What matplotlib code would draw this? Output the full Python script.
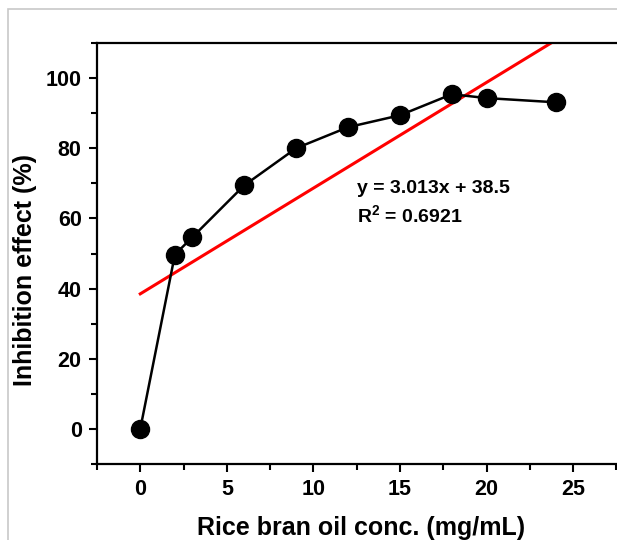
import matplotlib
matplotlib.use('Agg')
import matplotlib.pyplot as plt
import numpy as np
from matplotlib.patches import Rectangle
from matplotlib.ticker import MultipleLocator

plt.rcParams['font.family'] = 'Liberation Sans'
plt.rcParams['font.weight'] = 'bold'
plt.rcParams['mathtext.fontset'] = 'custom'
plt.rcParams['mathtext.rm'] = 'Liberation Sans:bold'
plt.rcParams['mathtext.default'] = 'rm'

# data
conc = [0, 2, 3, 6, 9, 12, 15, 18, 20, 24]
inhibition = [0, 49.7, 54.6, 69.4, 80.0, 86.0, 89.4, 95.4, 94.3, 93.1]
slope = 3.013
intercept = 38.5
r2 = 0.6921

fig = plt.figure(figsize=(6.17, 5.4), dpi=100)
# light frame of the original screenshot
fig.patches.append(Rectangle((8 / 617, -0.1), 1.2, 531 / 540 + 0.1,
                             transform=fig.transFigure, fill=False,
                             edgecolor='#c8c8c8', lw=1.2))

ax = fig.add_axes([97 / 617, 76 / 540, 528 / 617, 421 / 540])

fit_x = np.array([0, 24])
ax.plot(fit_x, slope * fit_x + intercept, color='red', lw=2.2, zorder=2)
ax.plot(conc, inhibition, color='black', lw=1.8, marker='o',
        markersize=13, zorder=3)

ax.set_xlim(-2.5, 28)
ax.set_ylim(-10, 110)
ax.xaxis.set_major_locator(MultipleLocator(5))
ax.xaxis.set_minor_locator(MultipleLocator(2.5))
ax.yaxis.set_major_locator(MultipleLocator(20))
ax.yaxis.set_minor_locator(MultipleLocator(10))
ax.tick_params(which='major', direction='out', length=6, width=1.5,
               labelsize=15.5, pad=5)
ax.tick_params(which='minor', direction='out', length=4, width=1.5)
for s in ax.spines.values():
    s.set_linewidth(1.6)

ax.set_xlabel('Rice bran oil conc. (mg/mL)', fontsize=18, fontweight='bold',
              labelpad=11)
ax.set_ylabel('Inhibition effect (%)', fontsize=18, fontweight='bold')
ax.yaxis.set_label_coords(-0.114, 0.46)

ax.text(12.5, 68.6, 'y = %.3fx + %.1f' % (slope, intercept), fontsize=14,
        fontweight='bold', va='center')
ax.text(12.5, 61.0, r'R$^2$ = %.4f' % r2, fontsize=14,
        fontweight='bold', va='center')

fig.savefig('out.png', dpi=100)
